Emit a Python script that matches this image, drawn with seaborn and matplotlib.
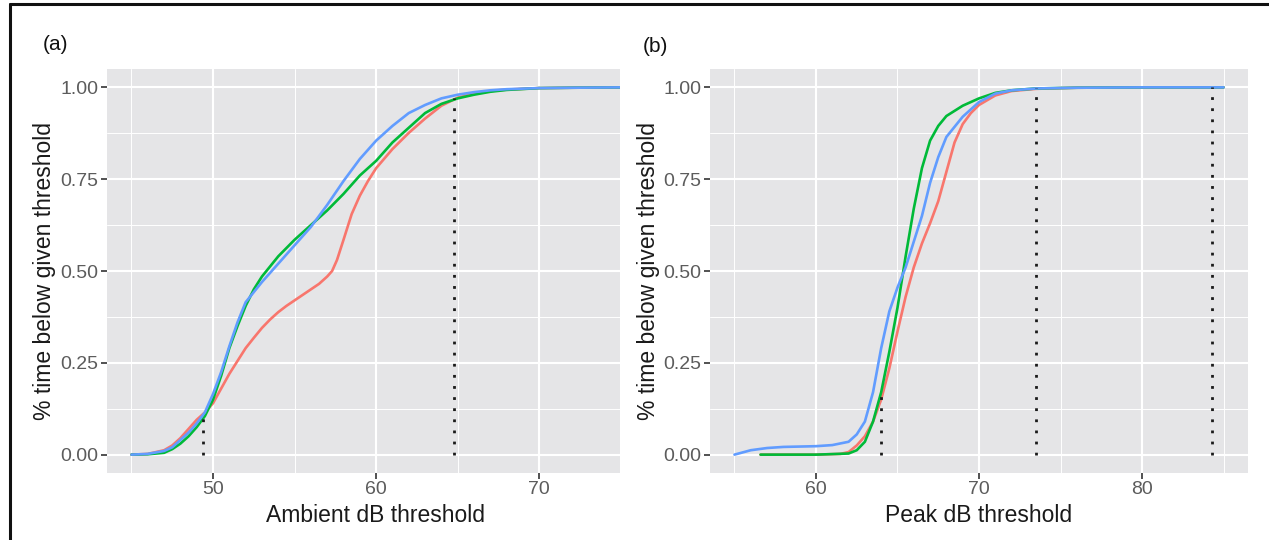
import numpy as np
import pandas as pd
import matplotlib
matplotlib.use("Agg")
import matplotlib.pyplot as plt
from matplotlib.lines import Line2D
from matplotlib.ticker import MultipleLocator
import seaborn as sns

groups = ["Group 1", "Group 2", "Group 3"]
colors = ["#F8766D", "#00BA38", "#619CFF"]

# panel (a): ambient dB, cumulative share of time below threshold
amb_red_x = [45, 46, 47, 47.5, 48, 48.5, 49, 49.5, 50, 50.5, 51, 51.5, 52, 52.5, 53, 53.5,
             54, 54.5, 55, 55.5, 56, 56.5, 57, 57.3, 57.6, 58, 58.5, 59, 59.5, 60, 61, 62, 63,
             64, 65, 66, 67, 68, 70, 72, 75]
amb_red_y = [0, 0.002, 0.012, 0.025, 0.045, 0.07, 0.095, 0.115, 0.14, 0.18, 0.22, 0.255,
             0.29, 0.318, 0.345, 0.368, 0.388, 0.405, 0.42, 0.435, 0.45, 0.465, 0.485, 0.5,
             0.53, 0.585, 0.655, 0.705, 0.745, 0.78, 0.832, 0.876, 0.915, 0.95, 0.972, 0.983,
             0.99, 0.994, 0.998, 0.999, 1.0]
amb_green_x = [45, 46, 47, 47.5, 48, 48.5, 49, 49.5, 50, 50.5, 51, 51.5, 52, 52.5, 53, 54,
               55, 56, 57, 58, 59, 60, 61, 62, 63, 64, 65, 66, 67, 68, 70, 72, 75]
amb_green_y = [0, 0.001, 0.005, 0.015, 0.03, 0.05, 0.075, 0.105, 0.15, 0.215, 0.29, 0.35,
               0.405, 0.45, 0.485, 0.54, 0.585, 0.625, 0.665, 0.71, 0.76, 0.80, 0.85, 0.89,
               0.93, 0.955, 0.97, 0.98, 0.988, 0.993, 0.998, 0.999, 1.0]
amb_blue_x = [45, 46, 47, 47.5, 48, 48.5, 49, 49.5, 50, 50.5, 51, 51.5, 52, 53, 54, 55, 56,
              57, 58, 59, 60, 61, 62, 63, 64, 65, 66, 67, 68, 70, 72, 75]
amb_blue_y = [0, 0.002, 0.01, 0.02, 0.04, 0.06, 0.085, 0.115, 0.165, 0.225, 0.295, 0.36,
              0.415, 0.47, 0.52, 0.57, 0.62, 0.68, 0.745, 0.805, 0.855, 0.895, 0.93, 0.952,
              0.97, 0.98, 0.987, 0.992, 0.995, 0.998, 0.999, 1.0]
amb_cut_x = [49.4, 64.8]
amb_cut_y = [0.10, 0.97]

# panel (b): peak dB
peak_red_x = [56.6, 58, 60, 61.5, 62, 62.5, 63, 63.5, 64, 64.5, 65, 65.5, 66, 66.5, 67, 67.5,
              68, 68.5, 69, 69.5, 70, 71, 72, 73.5, 76, 80, 85]
peak_red_y = [0, 0, 0, 0.002, 0.007, 0.025, 0.05, 0.09, 0.15, 0.235, 0.335, 0.43, 0.51, 0.575,
              0.63, 0.69, 0.77, 0.85, 0.9, 0.93, 0.952, 0.978, 0.99, 0.996, 0.999, 1.0, 1.0]
peak_green_x = [56.6, 58, 60, 62, 62.5, 63, 63.5, 64, 64.5, 65, 65.5, 66, 66.5, 67, 67.5, 68,
                69, 70, 71, 72, 73.5, 76, 80, 85]
peak_green_y = [0, 0, 0, 0.003, 0.012, 0.035, 0.09, 0.17, 0.28, 0.40, 0.54, 0.67, 0.78, 0.855,
                0.895, 0.922, 0.95, 0.97, 0.985, 0.992, 0.997, 0.999, 1.0, 1.0]
peak_blue_x = [55, 56, 57, 58, 60, 61, 62, 62.5, 63, 63.5, 64, 64.5, 65, 65.5, 66, 66.5, 67,
               67.5, 68, 69, 70, 71, 72, 73.5, 76, 80, 85]
peak_blue_y = [0, 0.012, 0.018, 0.021, 0.023, 0.026, 0.035, 0.055, 0.09, 0.17, 0.29, 0.39,
               0.455, 0.51, 0.58, 0.65, 0.74, 0.81, 0.865, 0.92, 0.96, 0.983, 0.992, 0.997,
               0.999, 1.0, 1.0]
peak_cut_x = [64.0, 73.5, 84.3]
peak_cut_y = [0.18, 0.997, 1.0]


def long_frame(xs, ys):
    parts = []
    for g, x, y in zip(groups, xs, ys):
        parts.append(pd.DataFrame({"x": x, "y": y, "group": g}))
    return pd.concat(parts, ignore_index=True)


amb = long_frame([amb_red_x, amb_green_x, amb_blue_x], [amb_red_y, amb_green_y, amb_blue_y])
peak = long_frame([peak_red_x, peak_green_x, peak_blue_x], [peak_red_y, peak_green_y, peak_blue_y])

sns.set_theme(style="darkgrid")
plt.rcParams["font.family"] = ["Liberation Sans", "DejaVu Sans"]

fig = plt.figure(figsize=(12.69, 5.4), dpi=100)
ax_a = fig.add_axes([107 / 1269, 67 / 540, 513 / 1269, 404 / 540])
ax_b = fig.add_axes([710 / 1269, 67 / 540, 538 / 1269, 404 / 540])

panels = [
    (ax_a, amb, amb_cut_x, amb_cut_y, (43.5, 74.95), 10, "Ambient dB threshold"),
    (ax_b, peak, peak_cut_x, peak_cut_y, (53.5, 86.5), 10, "Peak dB threshold"),
]

for ax, df, cx, cy, xlim, step, xlabel in panels:
    ax.set_facecolor("#E5E5E7")
    sns.lineplot(data=df, x="x", y="y", hue="group", palette=colors, estimator=None,
                 linewidth=1.9, legend=False, ax=ax)
    for ln in ax.lines:
        ln.set_solid_joinstyle("round")
    ax.vlines(cx, 0, cy, colors="#1a1a1a", linestyles=(0, (1, 3)), linewidth=2.0, zorder=3)
    ax.set_xlim(*xlim)
    ax.set_ylim(-0.05, 1.05)
    ax.xaxis.set_major_locator(MultipleLocator(step))
    ax.xaxis.set_minor_locator(MultipleLocator(step / 2))
    ax.yaxis.set_major_locator(MultipleLocator(0.25))
    ax.yaxis.set_minor_locator(MultipleLocator(0.125))
    ax.yaxis.set_major_formatter(matplotlib.ticker.FormatStrFormatter("%.2f"))
    ax.grid(which="major", color="white", linewidth=1.5)
    ax.grid(which="minor", color="white", linewidth=0.7)
    ax.tick_params(which="major", length=4, width=1.2, color="#333333", pad=2,
                   labelsize=14, labelcolor="#5c5c5c", bottom=True, left=True)
    ax.tick_params(which="minor", length=0)
    for s in ax.spines.values():
        s.set_visible(False)
    ax.set_xlabel(xlabel, fontsize=16.5, color="#1a1a1a", labelpad=4)
    ax.set_ylabel("% time below given threshold", fontsize=16.5, color="#1a1a1a", labelpad=3)

ax_a.xaxis.label.set_x(0.524)

fig.text(43 / 1269, 1 - 45 / 540, "(a)", fontsize=15, color="#111111", va="center")
fig.text(643 / 1269, 1 - 46 / 540, "(b)", fontsize=15, color="#111111", va="center")

# frame lines at top and left
fig.add_artist(Line2D([10 / 1269, 1.0], [1 - 4 / 540, 1 - 4 / 540], color="#111111", linewidth=2.2))
fig.add_artist(Line2D([10 / 1269, 10 / 1269], [0, 1 - 4 / 540], color="#111111", linewidth=2.2))

fig.savefig("out.png", dpi=100, facecolor="white")
